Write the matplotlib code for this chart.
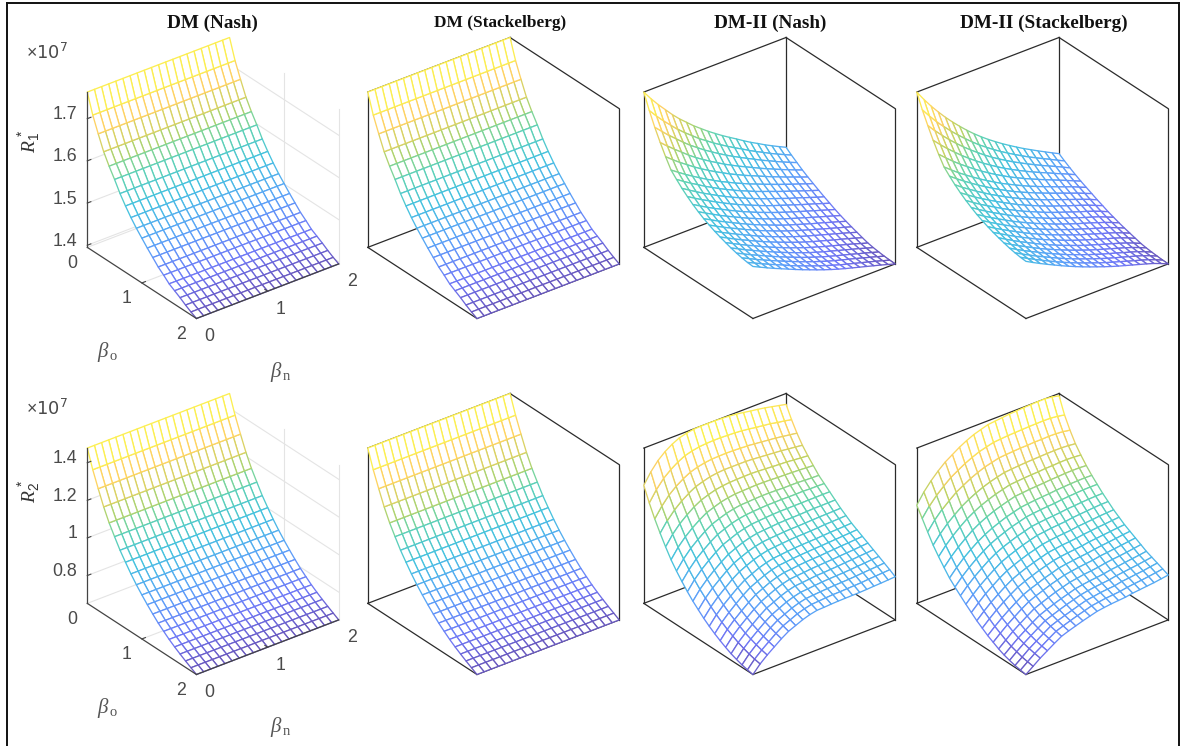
import numpy as np
import matplotlib
matplotlib.use("Agg")
import matplotlib.pyplot as plt
from matplotlib.colors import LinearSegmentedColormap
from matplotlib.lines import Line2D
from mpl_toolkits.mplot3d import proj3d

plt.rcParams['mathtext.fontset'] = 'custom'
plt.rcParams['mathtext.rm'] = 'Liberation Sans'
plt.rcParams['mathtext.it'] = 'Liberation Serif:italic'

beta_grid = [0, .1, .2, .3, .4, .5, .6, .7, .8, .9, 1, 1.1, 1.2, 1.3, 1.4, 1.5, 1.6, 1.7, 1.8, 1.9, 2]

titles = ['DM (Nash)', 'DM (Stackelberg)', 'DM-II (Nash)', 'DM-II (Stackelberg)']
title_x = [212, 500, 770, 1044]
title_size = [13.8, 12.4, 13.8, 13.8]

# DM surfaces do not change along beta_n, one profile along beta_o (x 1e7)
r1_dm = [1.763, 1.717, 1.681, 1.647, 1.621, 1.598, 1.573, 1.552, 1.533, 1.516, 1.501,
         1.486, 1.472, 1.458, 1.447, 1.435, 1.427, 1.419, 1.410, 1.402, 1.395]
r2_dm = [1.478, 1.382, 1.300, 1.222, 1.156, 1.101, 1.048, 1.003, .960, .921, .886,
         .853, .822, .793, .768, .744, .723, .704, .686, .669, .652]
r1_ticks = [1.4, 1.5, 1.6, 1.7]
r2_ticks = [.8, 1, 1.2, 1.4]
r1_zlim = (1.395, 1.763)
r2_zlim = (.652, 1.478)

# DM-II panels have no z ticks, heights read as per mille of the box
r1_dm2_nash = [
    [1000, 940, 885, 835, 785, 740, 700, 660, 625, 590, 558, 527, 498, 470, 441, 413, 388, 362, 338, 315, 293],
    [905, 852, 803, 758, 713, 673, 637, 600, 569, 537, 508, 480, 453, 428, 401, 376, 353, 329, 307, 286, 265],
    [820, 776, 732, 692, 652, 615, 582, 549, 520, 491, 464, 438, 414, 390, 367, 343, 322, 300, 279, 259, 240],
    [745, 704, 665, 629, 592, 559, 529, 500, 473, 446, 422, 398, 376, 354, 332, 311, 291, 271, 252, 233, 215],
    [675, 638, 603, 571, 539, 509, 482, 455, 431, 406, 384, 362, 342, 322, 302, 282, 264, 245, 228, 210, 193],
    [612, 580, 549, 520, 492, 465, 440, 415, 393, 370, 350, 329, 311, 292, 274, 256, 239, 222, 206, 189, 173],
    [575, 544, 515, 488, 460, 435, 410, 387, 365, 343, 324, 304, 286, 269, 251, 234, 218, 201, 185, 169, 153],
    [540, 511, 483, 456, 431, 406, 383, 360, 339, 318, 299, 280, 262, 246, 229, 212, 197, 181, 165, 149, 134],
    [510, 482, 455, 430, 405, 381, 358, 336, 316, 296, 277, 258, 241, 225, 209, 193, 177, 162, 147, 131, 116],
    [482, 455, 429, 404, 381, 357, 335, 313, 293, 273, 255, 237, 220, 204, 188, 173, 158, 143, 128, 113, 98],
    [458, 432, 407, 382, 359, 337, 315, 293, 274, 254, 236, 218, 202, 186, 171, 156, 141, 126, 112, 97, 82],
    [436, 411, 386, 363, 340, 318, 296, 275, 256, 237, 219, 201, 185, 170, 155, 140, 126, 112, 97, 83, 68],
    [418, 393, 369, 346, 324, 302, 281, 260, 241, 222, 204, 187, 171, 156, 141, 127, 112, 98, 84, 70, 55],
    [401, 376, 353, 330, 308, 287, 265, 245, 226, 208, 190, 173, 157, 142, 128, 114, 100, 86, 72, 58, 43],
    [387, 363, 339, 316, 295, 273, 252, 232, 213, 195, 177, 160, 144, 129, 115, 101, 87, 74, 60, 46, 31],
    [374, 350, 327, 304, 283, 261, 240, 220, 201, 182, 165, 148, 132, 118, 103, 90, 76, 63, 49, 34, 20],
    [362, 339, 315, 294, 272, 251, 231, 211, 192, 174, 156, 139, 124, 109, 96, 82, 69, 55, 42, 27, 13],
    [352, 329, 306, 285, 264, 243, 223, 203, 185, 166, 149, 133, 117, 103, 89, 76, 63, 49, 36, 22, 8],
    [344, 322, 299, 278, 257, 237, 217, 198, 179, 161, 144, 128, 112, 98, 85, 72, 59, 45, 32, 18, 4],
    [338, 316, 294, 273, 253, 233, 212, 193, 175, 157, 140, 124, 109, 94, 81, 68, 55, 42, 29, 15, 1],
    [335, 313, 291, 270, 250, 230, 210, 191, 173, 155, 138, 122, 107, 93, 80, 67, 54, 41, 28, 14, 0],
]
r1_dm2_stack = [
    [1000, 935, 875, 820, 768, 720, 675, 632, 592, 555, 520, 488, 457, 428, 400, 373, 348, 323, 299, 275, 252],
    [910, 852, 798, 749, 702, 659, 618, 579, 542, 509, 477, 447, 419, 392, 366, 341, 318, 295, 273, 250, 228],
    [832, 780, 732, 687, 645, 605, 568, 533, 499, 468, 439, 412, 385, 361, 337, 314, 292, 271, 250, 228, 206],
    [758, 712, 669, 629, 590, 554, 520, 488, 458, 429, 402, 377, 353, 330, 308, 287, 267, 246, 226, 206, 185],
    [691, 650, 611, 575, 541, 508, 477, 448, 420, 394, 369, 346, 324, 303, 283, 263, 244, 225, 206, 186, 166],
    [632, 595, 560, 528, 497, 467, 439, 412, 386, 363, 340, 318, 297, 278, 259, 241, 223, 205, 188, 168, 149],
    [596, 561, 529, 498, 468, 440, 413, 387, 362, 339, 317, 297, 277, 258, 240, 222, 205, 187, 170, 151, 132],
    [563, 529, 499, 469, 441, 413, 388, 363, 339, 317, 296, 276, 256, 238, 221, 204, 187, 170, 153, 135, 115],
    [534, 503, 472, 444, 417, 391, 366, 342, 318, 297, 277, 257, 238, 220, 204, 187, 171, 155, 138, 119, 100],
    [508, 477, 448, 421, 395, 369, 344, 321, 298, 278, 258, 238, 220, 203, 187, 170, 154, 139, 122, 104, 84],
    [485, 455, 427, 400, 375, 350, 326, 303, 281, 261, 242, 222, 205, 188, 172, 156, 140, 125, 109, 90, 71],
    [464, 435, 408, 382, 357, 332, 309, 287, 266, 246, 227, 208, 191, 174, 158, 143, 128, 112, 96, 78, 58],
    [447, 419, 392, 366, 342, 318, 295, 273, 252, 232, 214, 196, 178, 162, 147, 131, 116, 101, 86, 67, 47],
    [431, 403, 377, 352, 328, 304, 281, 260, 239, 220, 202, 184, 167, 150, 136, 120, 105, 91, 75, 57, 37],
    [417, 390, 364, 339, 315, 292, 269, 248, 228, 209, 190, 172, 156, 140, 125, 110, 95, 81, 65, 47, 27],
    [405, 378, 352, 327, 304, 281, 258, 237, 217, 198, 180, 162, 145, 130, 115, 100, 86, 71, 55, 37, 17],
    [394, 367, 342, 318, 294, 271, 249, 229, 209, 190, 172, 155, 138, 123, 108, 94, 79, 65, 49, 31, 11],
    [384, 358, 333, 310, 287, 264, 243, 222, 202, 184, 166, 149, 133, 117, 103, 89, 74, 60, 45, 27, 7],
    [377, 351, 327, 303, 281, 259, 237, 217, 198, 179, 162, 145, 129, 113, 99, 85, 71, 57, 42, 24, 4],
    [371, 346, 322, 299, 276, 254, 233, 213, 194, 176, 159, 142, 126, 111, 97, 82, 68, 54, 39, 21, 1],
    [368, 343, 319, 296, 274, 252, 231, 211, 192, 174, 157, 140, 124, 109, 95, 81, 67, 53, 38, 20, 0],
]
r2_dm2_nash = [
    [760, 830, 885, 925, 955, 978, 990, 998, 1000, 1000, 1000, 998, 995, 990, 983, 975, 968, 960, 950, 940, 930],
    [670, 738, 792, 831, 862, 886, 899, 908, 912, 914, 914, 912, 910, 906, 900, 893, 887, 881, 872, 864, 855],
    [590, 655, 708, 747, 778, 803, 818, 828, 834, 836, 837, 836, 834, 831, 826, 821, 816, 811, 804, 797, 790],
    [520, 584, 635, 675, 706, 732, 747, 760, 767, 771, 771, 771, 771, 768, 764, 760, 756, 752, 746, 741, 735],
    [455, 519, 569, 608, 642, 668, 685, 699, 707, 712, 714, 715, 716, 714, 711, 708, 705, 703, 698, 694, 690],
    [395, 458, 507, 547, 581, 610, 627, 643, 653, 660, 662, 664, 666, 665, 664, 661, 660, 658, 656, 653, 650],
    [345, 406, 456, 495, 530, 559, 577, 593, 604, 612, 614, 617, 619, 619, 618, 616, 616, 616, 613, 611, 610],
    [300, 360, 410, 449, 485, 515, 534, 552, 564, 572, 576, 579, 582, 582, 583, 582, 582, 583, 581, 581, 580],
    [258, 318, 366, 406, 442, 473, 492, 511, 524, 534, 538, 542, 545, 547, 547, 548, 548, 549, 549, 550, 550],
    [220, 279, 326, 366, 402, 434, 455, 474, 488, 498, 502, 506, 510, 512, 513, 514, 516, 518, 518, 519, 520],
    [187, 245, 292, 331, 368, 400, 421, 440, 455, 465, 470, 473, 477, 479, 480, 482, 484, 486, 487, 488, 490],
    [155, 212, 259, 298, 336, 367, 389, 409, 424, 435, 440, 444, 448, 451, 452, 454, 456, 460, 461, 463, 465],
    [127, 183, 229, 268, 305, 337, 359, 380, 395, 406, 411, 416, 420, 423, 425, 427, 430, 433, 435, 437, 440],
    [102, 158, 203, 243, 280, 312, 334, 355, 372, 383, 388, 393, 397, 400, 403, 405, 408, 411, 414, 417, 420],
    [80, 135, 180, 219, 256, 289, 311, 333, 349, 361, 365, 371, 375, 378, 380, 384, 387, 391, 393, 397, 400],
    [60, 115, 159, 198, 235, 267, 290, 311, 328, 340, 345, 349, 354, 357, 360, 362, 366, 369, 372, 376, 380],
    [42, 96, 139, 178, 215, 248, 269, 291, 308, 320, 324, 329, 334, 336, 339, 342, 346, 349, 353, 356, 360],
    [28, 81, 124, 162, 199, 230, 252, 274, 290, 302, 306, 311, 315, 318, 320, 322, 325, 329, 332, 336, 340],
    [16, 68, 110, 147, 184, 215, 237, 258, 274, 285, 289, 293, 296, 299, 301, 303, 306, 310, 313, 316, 320],
    [7, 58, 99, 135, 171, 202, 223, 244, 259, 270, 273, 277, 280, 281, 283, 285, 287, 291, 294, 297, 300],
    [0, 50, 90, 125, 160, 190, 210, 230, 245, 255, 257, 260, 262, 263, 264, 265, 267, 270, 272, 275, 278],
]
r2_dm2_stack = [
    [632, 700, 754, 800, 840, 870, 900, 925, 946, 961, 975, 980, 985, 990, 993, 996, 998, 1000, 1000, 995, 985],
    [569, 632, 683, 725, 763, 791, 818, 840, 859, 872, 884, 888, 892, 894, 896, 898, 899, 900, 899, 894, 885],
    [505, 565, 614, 654, 691, 718, 744, 765, 783, 795, 807, 811, 814, 817, 818, 821, 821, 823, 822, 818, 810],
    [443, 499, 546, 585, 621, 649, 673, 693, 710, 723, 735, 739, 743, 746, 748, 750, 752, 753, 753, 750, 745],
    [392, 446, 491, 530, 565, 593, 617, 636, 653, 666, 679, 683, 687, 690, 692, 696, 697, 700, 701, 699, 695],
    [345, 397, 441, 479, 514, 542, 565, 585, 601, 615, 628, 632, 637, 640, 643, 647, 649, 652, 653, 653, 650],
    [300, 350, 394, 431, 465, 493, 516, 535, 553, 566, 579, 585, 590, 594, 597, 602, 605, 608, 610, 611, 610],
    [265, 314, 356, 393, 426, 455, 477, 496, 513, 526, 540, 546, 551, 555, 558, 564, 568, 571, 574, 575, 575],
    [232, 279, 320, 356, 390, 418, 440, 458, 475, 488, 502, 508, 513, 517, 521, 527, 530, 534, 537, 539, 540],
    [200, 245, 286, 321, 354, 384, 405, 423, 440, 454, 467, 473, 479, 483, 487, 494, 498, 502, 506, 509, 510],
    [170, 214, 255, 289, 322, 350, 371, 389, 406, 419, 433, 440, 446, 450, 454, 461, 465, 469, 474, 477, 480],
    [140, 183, 223, 257, 290, 319, 340, 358, 374, 388, 402, 409, 416, 420, 425, 432, 437, 442, 446, 451, 455],
    [115, 157, 196, 230, 262, 291, 311, 329, 346, 360, 374, 382, 388, 393, 398, 406, 411, 416, 421, 426, 430],
    [90, 131, 169, 203, 235, 265, 285, 302, 320, 334, 349, 357, 363, 369, 374, 382, 388, 393, 399, 405, 410],
    [70, 110, 148, 181, 214, 243, 263, 280, 298, 312, 326, 334, 341, 347, 352, 361, 366, 372, 378, 384, 390],
    [50, 89, 127, 160, 191, 221, 240, 258, 275, 289, 303, 311, 319, 324, 330, 339, 345, 350, 356, 363, 370],
    [34, 72, 109, 141, 173, 202, 221, 239, 255, 269, 284, 292, 299, 304, 310, 319, 324, 331, 337, 343, 350],
    [22, 60, 96, 128, 159, 189, 207, 224, 240, 254, 268, 277, 284, 289, 294, 303, 309, 315, 321, 328, 335],
    [12, 48, 85, 116, 147, 177, 195, 211, 226, 241, 255, 262, 270, 275, 279, 289, 294, 300, 305, 313, 320],
    [5, 41, 77, 107, 138, 167, 184, 200, 215, 229, 243, 250, 257, 261, 266, 274, 280, 285, 291, 298, 305],
    [0, 35, 70, 100, 130, 158, 175, 190, 205, 218, 231, 238, 244, 248, 252, 260, 265, 270, 275, 282, 289],
]

# parula, stops taken by hand and moved a bit to follow the picture
parula = LinearSegmentedColormap.from_list('parula', [
    (0, (0.2422, 0.1504, 0.6603)), (.10, (0.2810, 0.3228, 0.9579)), (.24, (0.1786, 0.5289, 0.9682)),
    (.40, (0.0689, 0.6948, 0.8394)), (.55, (0.2161, 0.7843, 0.5923)), (.67, (0.6720, 0.7793, 0.2227)),
    (.82, (0.9970, 0.7659, 0.2199)), (1, (0.9769, 0.9839, 0.0805))])

W, H = 1180, 746
fig = plt.figure(figsize=(W / 100, H / 100), dpi=100, facecolor='white')


def px_text(x, y, s, **kw):
    kw.setdefault('ha', 'center')
    kw.setdefault('va', 'center')
    fig.text(x / W, 1 - y / H, s, **kw)


def panel(cx, cy, Z, zlim, ticks=None):
    # 300 px square axes gives a cube of about 178 px side at this view
    S = 300
    ax = fig.add_axes([(cx - .5135 * S) / W, (H - cy - .5135 * S) / H, S / W, S / H],
                      projection='3d', proj_type='ortho', computed_zorder=False)
    ax.view_init(elev=30, azim=-127.5)
    ax.set_box_aspect((1, 1, 1), zoom=1.005)
    ax.set_xlim(0, 2, view_margin=0)
    ax.set_ylim(2, 0, view_margin=0)
    ax.set_zlim(zlim[0], zlim[1], view_margin=0)
    ax.set_axis_off()
    ax.patch.set_visible(False)

    z0, z1 = zlim
    if ticks is None:
        box = dict(color='#2b2b2b', lw=0.9, zorder=1)
        for xs, ys, zs in [([0, 0], [0, 0], [z0, z1]), ([2, 2], [0, 0], [z0, z1]), ([2, 2], [2, 2], [z0, z1]),
                           ([0, 2], [0, 0], [z1, z1]), ([2, 2], [0, 2], [z1, z1]),
                           ([0, 2], [0, 0], [z0, z0]), ([2, 2], [0, 2], [z0, z0]),
                           ([0, 0], [0, 2], [z0, z0]), ([0, 2], [2, 2], [z0, z0])]:
            ax.plot(xs, ys, zs, **box)
    else:
        grid = dict(color='#e4e4e4', lw=0.8, zorder=1)
        for t in ticks:
            ax.plot([0, 2], [0, 0], [t, t], **grid)
            ax.plot([2, 2], [0, 2], [t, t], **grid)
        ax.plot([1, 1], [0, 0], [z0, z1], **grid)
        ax.plot([2, 2], [1, 1], [z0, z1], **grid)
        ax.plot([0, 2], [0, 0], [z0, z0], **grid)
        ax.plot([2, 2], [0, 2], [z0, z0], **grid)
        ax.plot([2, 2], [2, 2], [z0, z1], **grid)
        ax.plot([0, 2], [1, 1], [z0, z0], **grid)
        ax.plot([1, 1], [0, 2], [z0, z0], **grid)
        line = dict(color='#444444', lw=0.9, zorder=3)
        ax.plot([0, 0], [0, 0], [z0, z1], **line)
        ax.plot([0, 0], [0, 2], [z0, z0], **line)
        ax.plot([0, 2], [2, 2], [z0, z0], **line)

    X, Y = np.meshgrid(beta_grid, beta_grid)
    surf = ax.plot_surface(X, Y, Z, rstride=1, cstride=1, shade=False, color='white',
                           linewidth=0.95, zorder=2)
    mid = (Z[:-1, :-1] + Z[1:, :-1] + Z[:-1, 1:] + Z[1:, 1:]) / 4
    cols = parula((mid - Z.min()) / (Z.max() - Z.min())).reshape(-1, 4)
    # the screenshot is soft, lines look paler than the map
    cols[:, :3] = cols[:, :3] * .78 + .22
    surf.set_edgecolor(cols)

    if ticks is not None:
        pr = ax.get_proj()

        def label(x, y, z, s, dx, dy, ha='center'):
            px, py, _ = proj3d.proj_transform(x, y, z, pr)
            ax.annotate(s, xy=(px, py), xytext=(dx, dy), textcoords='offset pixels', ha=ha, va='center',
                        fontsize=12.8, color='#4a4a4a', family='Liberation Sans', annotation_clip=False)

        for t in ticks:
            label(0, 0, t, f'{t:g}', -10, 4, ha='right')
            ax.plot([0, .05], [0, 0], [t, t], color='#444444', lw=.8, zorder=3)
        for b in [0, 1, 2]:
            label(0, b, z0, str(b), -15, -16)
            label(b, 2, z0, str(b), 13, -18)
        ax.plot([0, .05], [1, 1], [z0, z0], color='#444444', lw=.8, zorder=3)
        ax.plot([1, 1], [2, 1.95], [z0, z0], color='#444444', lw=.8, zorder=3)
    return ax


col_x = [213, 493.5, 769.5, 1042.5]
row_y = [178, 534]
z_r1_dm = np.tile(np.array(r1_dm)[:, None], (1, 21))
z_r2_dm = np.tile(np.array(r2_dm)[:, None], (1, 21))

panel(col_x[0], row_y[0], z_r1_dm, r1_zlim, r1_ticks)
panel(col_x[1], row_y[0], z_r1_dm, r1_zlim)
panel(col_x[2], row_y[0], np.array(r1_dm2_nash, float), (0, 1000))
panel(col_x[3], row_y[0], np.array(r1_dm2_stack, float), (0, 1000))
panel(col_x[0], row_y[1], z_r2_dm, r2_zlim, r2_ticks)
panel(col_x[1], row_y[1], z_r2_dm, r2_zlim)
panel(col_x[2], row_y[1], np.array(r2_dm2_nash, float), (0, 1000))
panel(col_x[3], row_y[1], np.array(r2_dm2_stack, float), (0, 1000))

for t, x, fs in zip(titles, title_x, title_size):
    px_text(x, 23, t, family='Liberation Serif', weight='bold', fontsize=fs, color='#111111')

gray = '#555555'
for y_exp, y_lab, y_bo, y_bn, lab in [(53, 141, 352, 372, r'$R_{\mathit{1}}^{\,*}$'),
                                      (409, 491, 708, 727, r'$R_{\mathit{2}}^{\,*}$')]:
    px_text(47, y_exp, r'$\times\mathregular{10^{7}}$', fontsize=12.8, color='#4a4a4a')
    px_text(30, y_lab, lab, rotation=90, fontsize=14, color='#333333')
    px_text(108, y_bo, r'$\beta_{\,\mathregular{o}}$', fontsize=15, color=gray, family='Liberation Serif')
    px_text(281, y_bn, r'$\beta_{\,\mathregular{n}}$', fontsize=15, color=gray, family='Liberation Serif')

# black frame of the screenshot, no bottom edge
for xs, ys in [([7, 7], [3, H]), ([7, 1179], [3, 3]), ([1179, 1179], [3, H])]:
    fig.add_artist(Line2D([x / W for x in xs], [1 - y / H for y in ys], color='#111111', lw=1.4,
                          transform=fig.transFigure))

fig.savefig('out.png', dpi=100, facecolor='white')
